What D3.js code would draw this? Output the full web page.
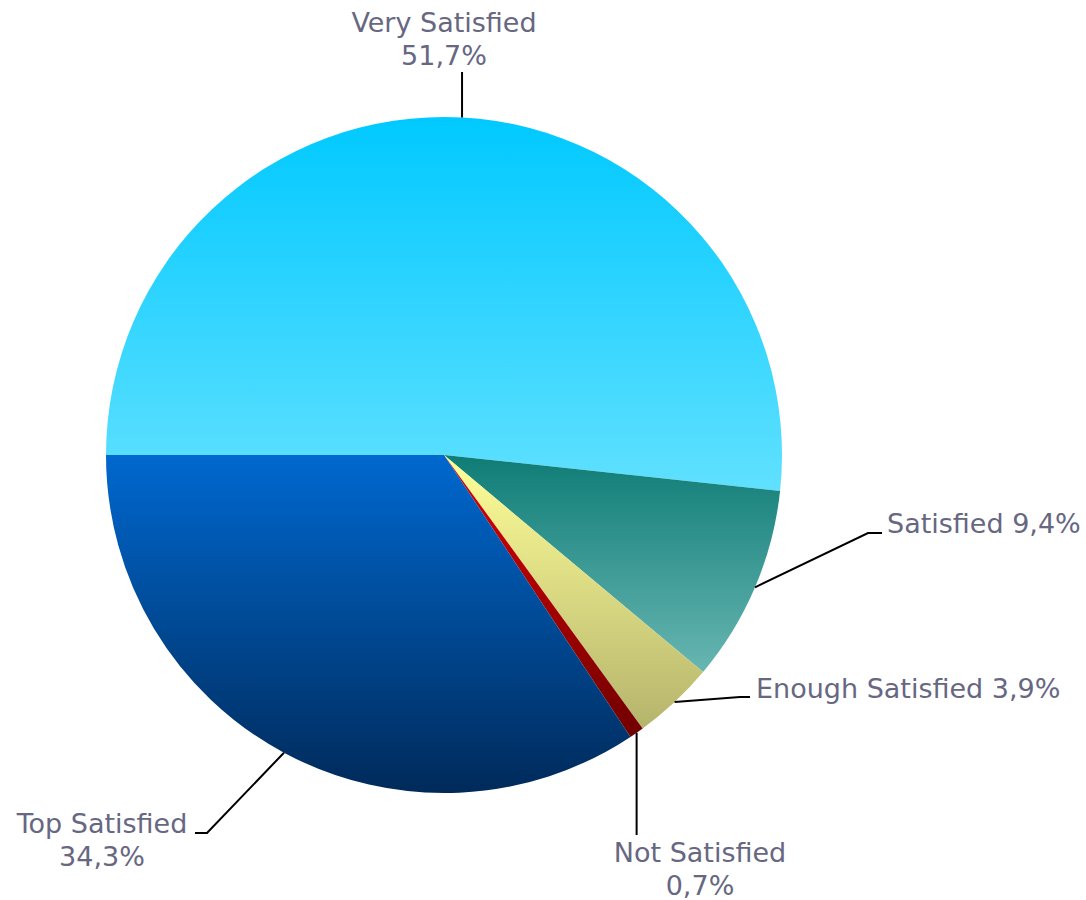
<!DOCTYPE html>
<html>
<head>
<meta charset="utf-8">
<script src="https://cdn.jsdelivr.net/npm/d3@7"></script>
<style>
  body { margin: 0; background: #fff; }
</style>
</head>
<body>
<div id="chart-area"></div>
<script>

let width = 1086,
    height = 900;

// data
let categories = ["Very Satisfied", "Satisfied", "Enough Satisfied", "Not Satisfied", "Top Satisfied"];
let values = [51.7, 9.4, 3.9, 0.7, 34.3];
let valueLabels = ["51,7%", "9,4%", "3,9%", "0,7%", "34,3%"];

// gradient stops per slice (top, bottom)
let gradTop = ["#00c9ff", "#0f7c76", "#ffff99", "#e00000", "#0068cf"];
let gradBottom = ["#60e0ff", "#68b6b2", "#b5b46c", "#700000", "#002a5a"];

let cx = 444, cy = 455, radius = 338;

// label layout: connector points after the arc point (x null = keep arc x), text placement
let labelLayout = [
  { pts: [[null, -383]], tx: 0, ty: -423, anchor: "middle", lines: 2 },
  { pts: [[424, 78], [438, 78]], tx: 443, ty: 78, anchor: "start", lines: 1 },
  { pts: [[296, 242], [306, 242]], tx: 312, ty: 243, anchor: "start", lines: 1 },
  { pts: [[null, 380]], tx: 256, ty: 407, anchor: "middle", lines: 2 },
  { pts: [[-237, 378], [-249, 378]], tx: -342, ty: 378, anchor: "middle", lines: 2 }
];

let svg = d3.select("#chart-area").append("svg")
    .attr("width", width)
    .attr("height", height);

let defs = svg.append("defs");
categories.forEach(function(c, i) {
  let g = defs.append("linearGradient")
    .attr("id", "grad" + i)
    .attr("x1", 0).attr("y1", 0)
    .attr("x2", 0).attr("y2", 1);
  g.append("stop").attr("offset", "0%").attr("stop-color", gradTop[i]);
  g.append("stop").attr("offset", "100%").attr("stop-color", gradBottom[i]);
});

let pie = d3.pie()
  .sort(null)
  .startAngle(-Math.PI / 2)
  .endAngle(3 * Math.PI / 2)
  .value(function(d) { return d; });

let arc = d3.arc().innerRadius(0).outerRadius(radius);

let arcs = pie(values);

let chart = svg.append("g")
  .attr("transform", "translate(" + cx + "," + cy + ")");

chart.selectAll(".slice")
  .data(arcs)
  .enter().append("path")
  .attr("class", "slice")
  .attr("d", arc)
  .attr("fill", function(d, i) { return "url(#grad" + i + ")"; });

// connectors
chart.selectAll(".connector")
  .data(arcs)
  .enter().append("path")
  .attr("class", "connector")
  .attr("fill", "none")
  .attr("stroke", "#000")
  .attr("stroke-width", 2)
  .attr("d", function(d, i) {
    let mid = (d.startAngle + d.endAngle) / 2;
    let p0 = [radius * Math.sin(mid), -radius * Math.cos(mid)];
    let rest = labelLayout[i].pts.map(function(p) {
      return [p[0] === null ? p0[0] : p[0], p[1]];
    });
    return d3.line()([p0].concat(rest));
  });

// labels
let labels = chart.selectAll(".label")
  .data(arcs)
  .enter().append("text")
  .attr("class", "label")
  .attr("font-family", "'DejaVu Sans', Verdana, sans-serif")
  .attr("font-size", 27)
  .attr("fill", "#676782")
  .attr("text-anchor", function(d, i) { return labelLayout[i].anchor; });

labels.each(function(d, i) {
  let l = labelLayout[i];
  let t = d3.select(this);
  if (l.lines == 2) {
    t.append("tspan").attr("x", l.tx).attr("y", l.ty).text(categories[i]);
    t.append("tspan").attr("x", l.tx).attr("y", l.ty + 33).text(valueLabels[i]);
  } else {
    t.append("tspan").attr("x", l.tx).attr("y", l.ty)
      .text(categories[i] + " " + valueLabels[i]);
  }
});

</script>
</body>
</html>
